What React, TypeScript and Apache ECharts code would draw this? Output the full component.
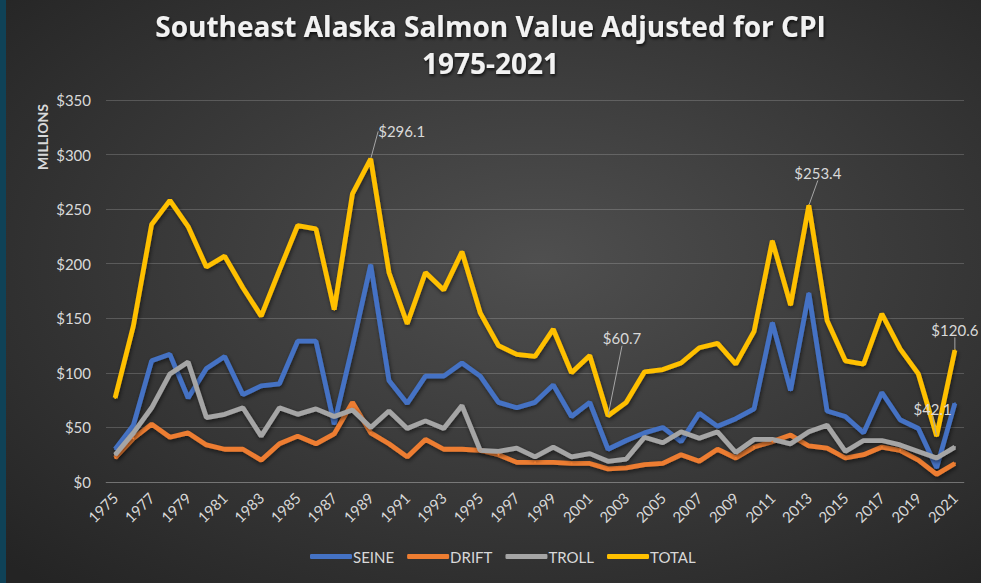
import React, { useEffect, useRef } from "react";
import * as echarts from "echarts";

const years = [
  "1975","1976","1977","1978","1979","1980","1981","1982","1983","1984",
  "1985","1986","1987","1988","1989","1990","1991","1992","1993","1994",
  "1995","1996","1997","1998","1999","2000","2001","2002","2003","2004",
  "2005","2006","2007","2008","2009","2010","2011","2012","2013","2014",
  "2015","2016","2017","2018","2019","2020","2021",
];

const seine = [
  30, 52, 111, 117, 77, 104, 115, 80, 88, 90,
  129, 129, 53, 124, 199, 93, 72, 97, 97, 109,
  97, 73, 68, 73, 89, 60, 73, 30, 38, 45,
  50, 37, 63, 51, 58, 67, 146, 84, 173, 65,
  60, 45, 82, 57, 49, 13, 72,
];

const drift = [
  22, 40, 53, 41, 45, 34, 30, 30, 20, 35,
  42, 35, 44, 73, 45, 35, 23, 39, 30, 30,
  29, 25, 18, 18, 18, 17, 17, 12, 13, 16,
  17, 25, 19, 30, 22, 32, 37, 43, 33, 31,
  22, 25, 32, 29, 20, 7, 17,
];

const troll = [
  25, 45, 68, 99, 110, 59, 62, 68, 42, 68,
  62, 67, 60, 66, 50, 65, 49, 56, 49, 70,
  29, 28, 31, 23, 32, 23, 26, 19, 21, 41,
  36, 46, 40, 46, 27, 39, 39, 35, 46, 52,
  28, 38, 38, 34, 28, 22, 32,
];

const total = [
  77, 143, 236, 258, 234, 197, 207, 178, 152, 194,
  235, 232, 158, 264, 296.1, 192, 145, 192, 176, 211,
  155, 125, 117, 115, 140, 100, 116, 60.7, 73, 101,
  103, 109, 123, 127, 108, 138, 221, 162, 253.4, 148,
  111, 108, 154, 122, 99, 42.1, 120.6,
];

const yTicks = [0, 50, 100, 150, 200, 250, 300, 350];
const labeledYears = ["1989", "2002", "2013", "2020", "2021"];
const labelShift: Record<string, [number, number]> = {
  "1989": [31, -14],
  "2002": [14, -64],
  "2013": [9, -19],
  "2020": [-4, -14],
  "2021": [0, -7],
};

const FONT = "Lato, 'Open Sans', sans-serif";
const TITLE_FONT = "'Open Sans', Lato, sans-serif";
const TEXT = "#d9d9d9";

export default function App() {
  const ref = useRef<HTMLDivElement>(null);

  useEffect(() => {
    if (!ref.current) return;
    const chart = echarts.init(ref.current, null, { renderer: "svg" });

    const shadow = {
      shadowColor: "rgba(0,0,0,0.55)",
      shadowBlur: 4,
      shadowOffsetX: 1,
      shadowOffsetY: 2,
    };

    const mkSeries = (name: string, data: any[], color: string, extra: any = {}) => ({
      name,
      type: "line",
      data,
      symbol: "circle",
      symbolSize: 2,
      showSymbol: true,
      itemStyle: { color },
      lineStyle: { color, width: 4.8, ...shadow },
      emphasis: { disabled: true },
      silent: true,
      ...extra,
    });

    const totalData = total.map((v, i) =>
      labeledYears.includes(years[i])
        ? { value: v, label: { show: true } }
        : v
    );

    chart.setOption({
      animation: false,
      backgroundColor: {
        type: "radial",
        x: 0.55,
        y: 0.45,
        r: 0.75,
        colorStops: [
          { offset: 0, color: "#4f4f4f" },
          { offset: 1, color: "#242424" },
        ],
      },
      textStyle: { fontFamily: FONT },
      title: {
        text: "Southeast Alaska Salmon Value Adjusted for CPI\n1975-2021",
        left: "center",
        top: 2,
        textStyle: {
          color: "#f2f2f2",
          fontSize: 28,
          fontWeight: "bold",
          fontFamily: TITLE_FONT,
          lineHeight: 37,
          textShadowColor: "rgba(0,0,0,0.7)",
          textShadowBlur: 3,
          textShadowOffsetX: 1,
          textShadowOffsetY: 2,
        },
      },
      graphic: [
        {
          type: "rect",
          left: 0,
          top: 0,
          shape: { width: 6, height: 583 },
          style: { fill: "#0f4257" },
        },
        {
          type: "text",
          x: 42,
          y: 137,
          rotation: Math.PI / 2,
          style: {
            text: "MILLIONS",
            fill: TEXT,
            font: `bold 14px ${FONT}`,
            align: "center",
            verticalAlign: "middle",
          },
        },
      ],
      legend: {
        bottom: 14,
        left: 305,
        icon: "roundRect",
        itemWidth: 42,
        itemHeight: 5,
        itemGap: 13,
        textStyle: { color: TEXT, fontSize: 15, fontFamily: FONT, padding: [0, 0, 0, -4] },
        data: ["SEINE", "DRIFT", "TROLL", "TOTAL"],
      },
      grid: { left: 106, right: 17, top: 100, bottom: 101 },
      xAxis: {
        type: "category",
        data: years,
        boundaryGap: true,
        axisLine: { show: true, lineStyle: { color: "rgba(255,255,255,0.18)", width: 1 } },
        axisTick: { show: false },
        axisLabel: {
          interval: 1,
          rotate: 45,
          color: TEXT,
          fontSize: 15,
          fontFamily: FONT,
          margin: 13,
        },
      },
      yAxis: {
        type: "value",
        min: yTicks[0],
        max: yTicks[yTicks.length - 1],
        interval: 50,
        axisLine: { show: false },
        axisTick: { show: false },
        splitLine: { lineStyle: { color: "rgba(255,255,255,0.18)", width: 1 } },
        axisLabel: {
          color: TEXT,
          fontSize: 15,
          fontFamily: FONT,
          margin: 15,
          formatter: (v: number) => "$" + v,
        },
      },
      series: [
        mkSeries("SEINE", seine, "#4472c4"),
        mkSeries("DRIFT", drift, "#ed7d31"),
        mkSeries("TROLL", troll, "#a5a5a5"),
        mkSeries("TOTAL", totalData, "#ffc000", {
          label: {
            show: false,
            position: "top",
            distance: 5,
            color: TEXT,
            fontSize: 15,
            fontFamily: FONT,
            formatter: (p: any) => "$" + Number(p.value).toFixed(1),
          },
          labelLine: {
            show: true,
            lineStyle: { color: "#a6a6a6", width: 1 },
          },
          labelLayout: (p: any) => {
            const s = labelShift[years[p.dataIndex]];
            return s ? { dx: s[0], dy: s[1] } : {};
          },
        }),
      ],
    });

    return () => chart.dispose();
  }, []);

  return (
    <div
      ref={ref}
      style={{ position: "absolute", left: 0, top: 0, width: 981, height: 583 }}
    />
  );
}
